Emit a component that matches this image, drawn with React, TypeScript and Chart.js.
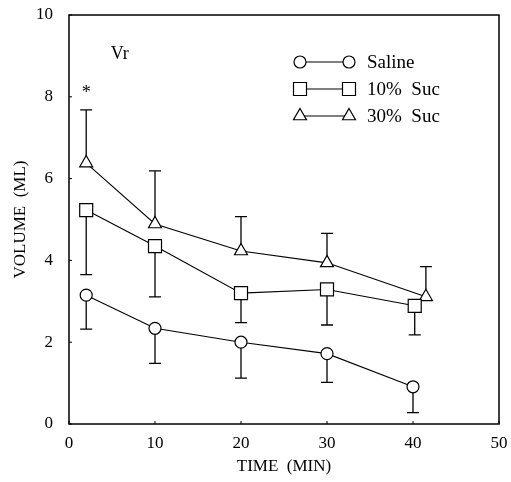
import React, { useEffect, useRef } from 'react';
import { Chart, registerables } from 'chart.js';

Chart.register(...registerables);

// ---- data ----
const seriesNames = ['Saline', '10% Suc', '30% Suc'];

const salineX = [2, 10, 20, 30, 40];
const salineY = [3.15, 2.34, 2.0, 1.72, 0.91];
const salineSD = [0.83, 0.86, 0.88, 0.7, 0.63];

const suc10X = [2, 10, 20, 30, 40.2];
const suc10Y = [5.23, 4.35, 3.2, 3.29, 2.89];
const suc10SD = [1.58, 1.24, 0.72, 0.87, 0.71];

const suc30X = [2, 10, 20, 30, 41.5];
const suc30Y = [6.38, 4.89, 4.23, 3.94, 3.11];
const suc30SD = [1.3, 1.3, 0.84, 0.72, 0.74];

const xTickValues = [0, 10, 20, 30, 40, 50];
const yTickValues = [0, 2, 4, 6, 8, 10];

const panelLabel = 'Vr';
const panelLabelPos = { x: 5.9, y: 9.03 };
const significanceMark = '*';
const significancePos = { x: 2, y: 8.15 };

const xTitle = 'TIME  (MIN)';
const yTitle = 'VOLUME  (ML)';

const SERIF = '"Liberation Serif", "Times New Roman", serif';

export default function App() {
  const ref = useRef<HTMLCanvasElement>(null);

  useEffect(() => {
    const canvas = ref.current;
    if (!canvas) return;

    const pts = (xs: number[], ys: number[]) => xs.map((x, i) => ({ x, y: ys[i] }));

    const errSets = [
      { xs: salineX, ys: salineY, sd: salineSD, dir: -1 },
      { xs: suc10X, ys: suc10Y, sd: suc10SD, dir: -1 },
      { xs: suc30X, ys: suc30Y, sd: suc30SD, dir: 1 },
    ];

    const drawMarker = (ctx: CanvasRenderingContext2D, style: string, x: number, y: number) => {
      ctx.beginPath();
      if (style === 'circle') {
        ctx.arc(x, y, 6, 0, Math.PI * 2);
      } else if (style === 'rect') {
        ctx.rect(x - 6.5, y - 6.5, 13, 13);
      } else {
        const r = 7.5;
        ctx.moveTo(x, y - r);
        ctx.lineTo(x + r * Math.sin((2 * Math.PI) / 3), y + r / 2);
        ctx.lineTo(x - r * Math.sin((2 * Math.PI) / 3), y + r / 2);
        ctx.closePath();
      }
      ctx.fillStyle = '#fff';
      ctx.fill();
      ctx.stroke();
    };

    const errorPlugin = {
      id: 'errorBars',
      beforeDatasetsDraw(chart: any) {
        const { ctx } = chart;
        const xs = chart.scales.x;
        const ys = chart.scales.y;
        ctx.save();
        ctx.strokeStyle = '#000';
        ctx.lineWidth = 1.3;
        errSets.forEach((s) => {
          s.xs.forEach((xv, i) => {
            const px = xs.getPixelForValue(xv);
            const py0 = ys.getPixelForValue(s.ys[i]);
            const py1 = ys.getPixelForValue(s.ys[i] + s.dir * s.sd[i]);
            ctx.beginPath();
            ctx.moveTo(px, py0);
            ctx.lineTo(px, py1);
            ctx.moveTo(px - 6, py1);
            ctx.lineTo(px + 6, py1);
            ctx.stroke();
          });
        });
        ctx.restore();
      },
    };

    const framePlugin = {
      id: 'frame',
      afterDatasetsDraw(chart: any) {
        const { ctx, chartArea: a } = chart;
        const xs = chart.scales.x;
        const ys = chart.scales.y;
        ctx.save();
        ctx.strokeStyle = '#000';
        ctx.lineWidth = 1.5;
        ctx.strokeRect(a.left, a.top, a.right - a.left, a.bottom - a.top);
        ctx.lineWidth = 1;
        ctx.beginPath();
        yTickValues.forEach((v) => {
          const py = ys.getPixelForValue(v);
          ctx.moveTo(a.left, py);
          ctx.lineTo(a.left + 3, py);
        });
        xTickValues.forEach((v) => {
          const px = xs.getPixelForValue(v);
          ctx.moveTo(px, a.bottom);
          ctx.lineTo(px, a.bottom - 3);
        });
        ctx.stroke();

        // panel label and significance mark
        ctx.fillStyle = '#000';
        ctx.textAlign = 'center';
        ctx.textBaseline = 'middle';
        ctx.font = `18px ${SERIF}`;
        ctx.fillText(panelLabel, xs.getPixelForValue(panelLabelPos.x), ys.getPixelForValue(panelLabelPos.y));
        ctx.font = `18px ${SERIF}`;
        ctx.fillText(
          significanceMark,
          xs.getPixelForValue(significancePos.x),
          ys.getPixelForValue(significancePos.y) + 3
        );

        // legend
        const styles = ['circle', 'rect', 'triangle'];
        const rowsY = [a.top + 47, a.top + 74, a.top + 101];
        const x0 = a.left + 231;
        const x1 = a.left + 280;
        ctx.lineWidth = 1.2;
        styles.forEach((st, i) => {
          const yy = rowsY[i];
          ctx.beginPath();
          ctx.moveTo(x0, yy);
          ctx.lineTo(x1, yy);
          ctx.stroke();
          drawMarker(ctx, st, x0, yy);
          drawMarker(ctx, st, x1, yy);
          ctx.fillStyle = '#000';
          ctx.font = `19px ${SERIF}`;
          ctx.textAlign = 'left';
          ctx.textBaseline = 'middle';
          ctx.fillText(seriesNames[i].replace(' ', '  '), a.left + 298, yy + 1);
        });
        ctx.restore();
      },
    };

    const common = {
      showLine: true,
      borderColor: '#000',
      borderWidth: 1.1,
      pointBorderColor: '#000',
      pointBackgroundColor: '#fff',
      pointBorderWidth: 1.2,
      tension: 0,
      clip: false as any,
    };

    const chart = new Chart(canvas, {
      type: 'scatter',
      data: {
        datasets: [
          { ...common, label: seriesNames[0], data: pts(salineX, salineY), pointStyle: 'circle', pointRadius: 6 },
          { ...common, label: seriesNames[1], data: pts(suc10X, suc10Y), pointStyle: 'rect', pointRadius: 9.2 },
          { ...common, label: seriesNames[2], data: pts(suc30X, suc30Y), pointStyle: 'triangle', pointRadius: 7.5 },
        ],
      },
      options: {
        animation: false,
        responsive: false,
        maintainAspectRatio: false,
        events: [],
        layout: { padding: { top: 15, right: 12, left: 0, bottom: 0 } },
        plugins: {
          legend: { display: false },
          tooltip: { enabled: false },
        },
        scales: {
          x: {
            type: 'linear',
            min: 0,
            max: 50,
            afterBuildTicks: (s: any) => {
              s.ticks = xTickValues.map((v) => ({ value: v }));
            },
            ticks: { color: '#000', font: { family: SERIF, size: 17 }, padding: 1 },
            grid: { display: false },
            border: { display: false },
            title: {
              display: true,
              text: xTitle,
              color: '#000',
              font: { family: SERIF, size: 17, lineHeight: 1 },
              padding: { top: 0, bottom: 7 },
            },
            afterFit: (s: any) => {
              s.height = 58;
              s.paddingLeft = 0;
              s.paddingRight = 0;
            },
          },
          y: {
            type: 'linear',
            min: 0,
            max: 10,
            afterBuildTicks: (s: any) => {
              s.ticks = yTickValues.map((v) => ({ value: v }));
            },
            ticks: { color: '#000', font: { family: SERIF, size: 17 }, padding: 8 },
            grid: { display: false },
            border: { display: false },
            title: {
              display: true,
              text: yTitle,
              color: '#000',
              font: { family: SERIF, size: 17, lineHeight: 1 },
              padding: { top: 12, bottom: 0 },
            },
            afterFit: (s: any) => {
              s.width = 69;
              s.paddingTop = 0;
              s.paddingBottom = 0;
            },
          },
        },
      },
      plugins: [errorPlugin, framePlugin],
    } as any);

    return () => chart.destroy();
  }, []);

  return (
    <div style={{ position: 'absolute', left: 0, top: 0, width: 511, height: 482, background: '#fff' }}>
      <canvas ref={ref} width={511} height={482} />
    </div>
  );
}
